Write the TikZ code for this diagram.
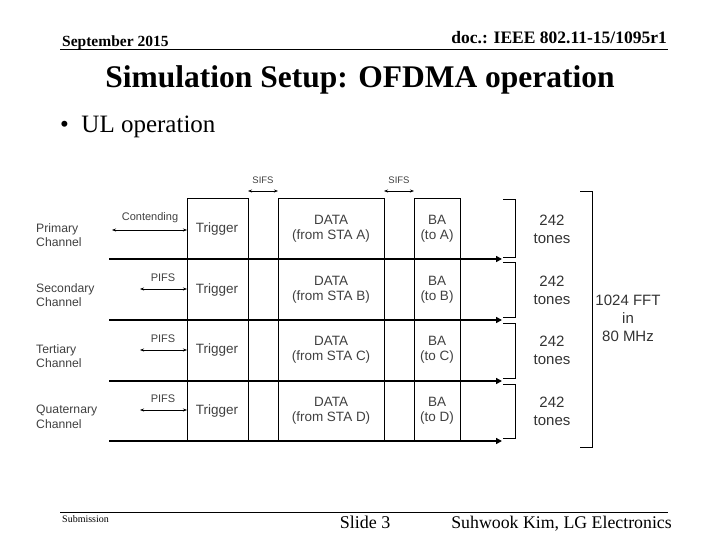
\documentclass[tikz,border=0pt]{standalone}
\usepackage{fontspec}
\setmainfont{Liberation Serif}
\newfontfamily\dsans{Liberation Sans}
\usetikzlibrary{arrows.meta}
\begin{document}
\begin{tikzpicture}[x=1pt,y=-1pt,
  lab/.style={font=\dsans\fontsize{13.5}{15.5}\selectfont,text=black!75,align=center,inner sep=0},
  chl/.style={font=\dsans\fontsize{12.2}{14.5}\selectfont,text=black!75,align=left,anchor=west,inner sep=0},
  big/.style={font=\dsans\fontsize{15}{18}\selectfont,text=black!80,align=center,inner sep=0},
  sm/.style={lab,font=\dsans\fontsize{11}{12}\selectfont},
  box/.style={draw,line width=1pt},
  ch/.style={line width=2.2pt,-{Triangle[length=6pt,width=6pt]}},
  dim/.style={line width=0.6pt,{Stealth[length=4pt]}-{Stealth[length=4pt]}},
  br/.style={line width=1pt}]
\useasboundingbox (0,0) rectangle (720,540);
% header/footer
\node[anchor=base west,font=\bfseries\fontsize{15.5}{17}\selectfont,inner sep=0] (date) at (62,47) {September 2015};
\node[anchor=base east,font=\bfseries\fontsize{17.5}{19}\selectfont,inner sep=0] (doc) at (667,44) {doc.: IEEE 802.11-15/1095r1};
\draw[line width=0.8pt] (60,49) -- (668,49);
\node[font=\bfseries\fontsize{31.5}{34}\selectfont,inner sep=0] (title) at (360,80) {Simulation Setup: OFDMA operation};
\node[anchor=west,font=\fontsize{25}{28}\selectfont,inner sep=0] (bul) at (60,127) {\textbullet\ \ UL operation};
\draw[line width=0.8pt] (60,512) -- (668,512);
\node[anchor=base west,font=\fontsize{10}{12}\selectfont,inner sep=0] (sub) at (62,522) {Submission};
\node[anchor=base,font=\fontsize{18}{20}\selectfont,inner sep=0] (slide) at (365,528) {Slide 3};
\node[anchor=base east,font=\fontsize{17.8}{20}\selectfont,inner sep=0] (auth) at (672,528) {Suhwook Kim, LG Electronics};
% boxes (full columns)
\draw[box] (187,441) -- (187,199) -- (248,199) -- (248,441);
\draw[box] (278,441) -- (278,199) -- (384,199) -- (384,441);
\draw[box] (414,441) -- (414,199) -- (460,199) -- (460,441);
% channel lines
\foreach \y/\n in {259/a,320/b,381/c,441/d}{
  \coordinate (s\n) at (109,\y); \coordinate (e\n) at (502,\y);
  \draw[ch] (s\n) -- (e\n);}
% texts in boxes
\foreach \yc/\L in {229/A,290/B,350/C,411/D}{
  \node[lab] at (217,\yc) {Trigger};
  \node[lab] at (331,\yc) {DATA\\(from STA \L)};
  \node[lab] at (437,\yc) {BA\\(to \L)};
  \node[big] at (552,\yc) {242\\tones};}
% channel labels
\node[chl] at (36,235) {Primary\\Channel};
\node[chl] at (36,295) {Secondary\\Channel};
\node[chl] at (36,356) {Tertiary\\Channel};
\node[chl] at (36,417) {Quaternary\\Channel};
% SIFS
\coordinate (s1) at (248,191); \coordinate (s2) at (278,191);
\coordinate (s3) at (384,191); \coordinate (s4) at (414,191);
\draw[dim] (s1) -- (s2); \draw[dim] (s3) -- (s4);
\node[sm,font=\dsans\fontsize{9.5}{10}\selectfont] at (263,180) {SIFS};
\node[sm,font=\dsans\fontsize{9.5}{10}\selectfont] at (399,180) {SIFS};
% contending / PIFS
\coordinate (c1) at (112,230); \coordinate (c2) at (187,230);
\draw[dim] (c1) -- (c2);
\node[sm] at (150,218) {Contending};
\foreach \y in {289,350,410}{
  \coordinate (p\y) at (140,\y); \coordinate (q\y) at (187,\y);
  \draw[dim] (p\y) -- (q\y);
  \node[sm] at (163,\y-11) {PIFS};}
% brackets
\foreach \a/\b in {200/257,262/317,323/378,384/438}
  \draw[br] (503,\a) -- (515,\a) -- (515,\b) -- (503,\b);
\draw[br] (580,192) -- (592,192) -- (592,447) -- (580,447);
\node[big] at (628,318) {1024 FFT\\in\\80 MHz};
\end{tikzpicture}
\end{document}
